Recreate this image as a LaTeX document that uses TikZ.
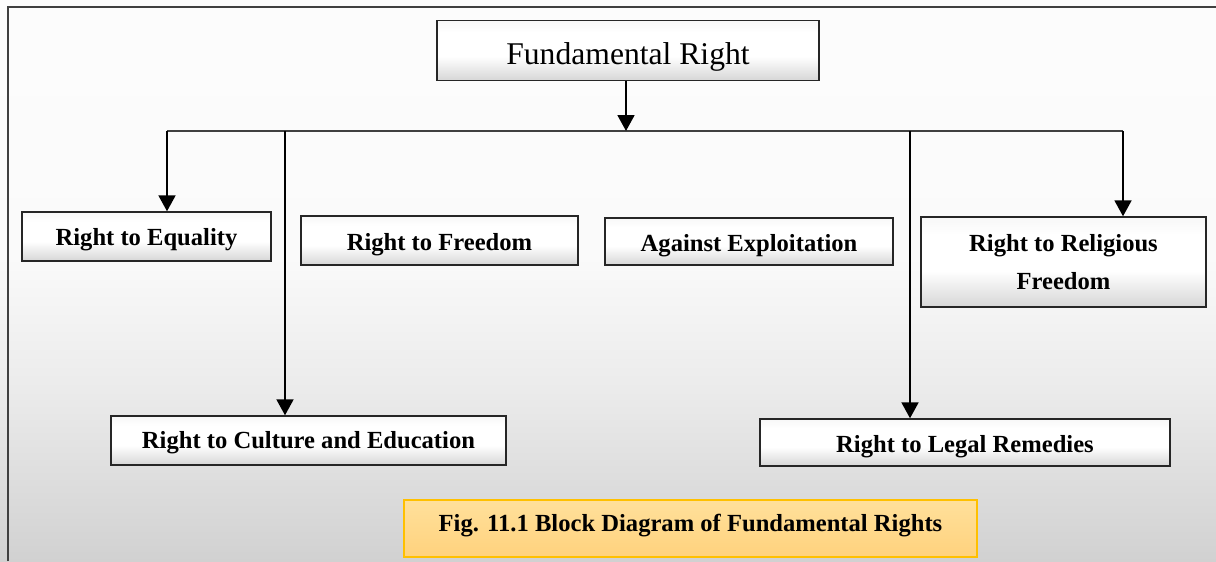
\documentclass[tikz,border=0pt]{standalone}
\usepackage{fontspec}
\setmainfont{Liberation Serif}
\usepackage{tikz}
\usetikzlibrary{arrows.meta}

\definecolor{capfill}{RGB}{255,224,155}
\definecolor{capfillb}{RGB}{255,210,125}
\definecolor{capline}{RGB}{255,192,0}
\definecolor{frameline}{RGB}{64,64,64}

\pgfdeclareverticalshading{bgshade}{100bp}{color(0bp)=(gray!36); color(25bp)=(gray!36);
  color(40bp)=(gray!16); color(52bp)=(gray!4); color(75bp)=(white!99!black); color(100bp)=(white!99!black)}
\pgfdeclareverticalshading{boxshade}{100bp}{color(0bp)=(gray!32); color(25bp)=(gray!32);
  color(45bp)=(white); color(65bp)=(white); color(75bp)=(gray!6); color(100bp)=(gray!6)}

\newcommand\lowered[2]{\raisebox{-#1}[\height][\depth]{#2}}

\begin{document}
\begin{tikzpicture}[x=0.02cm,y=-0.02cm]
  \tikzstyle{rightbox}=[draw=black!85,line width=0.8pt,shading=boxshade,inner sep=0pt,
    font=\fontsize{14}{21.5}\selectfont\bfseries,align=center]
  \tikzstyle{arr}=[line width=1.3pt,-{Triangle[length=9pt,width=9.5pt]}]

  \useasboundingbox (0,0) rectangle (1216,561);
  \path[shading=bgshade] (0,0) rectangle (1216,561);
  \draw[frameline,line width=1.4pt] (8,561) -- (8,7) -- (1216,7);

  \draw (628,50.5) node[rightbox,minimum width=7.64cm,minimum height=1.2cm,
    font=\fontsize{18}{22}\selectfont] (fr) {\lowered{3.5pt}{Fundamental Right}};

  \draw (146.5,236.5) node[rightbox,minimum width=4.98cm,minimum height=0.98cm] (eq) {\lowered{2pt}{Right to Equality}};
  \draw (439.5,240.5) node[rightbox,minimum width=5.54cm,minimum height=0.98cm] (free) {\lowered{2.5pt}{Right to Freedom}};
  \draw (749,241.5) node[rightbox,minimum width=5.76cm,minimum height=0.94cm] (expl) {\lowered{2.5pt}{Against Exploitation}};
  \draw (1063.5,262) node[rightbox,minimum width=5.7cm,minimum height=1.8cm] (rel) {Right to Religious\\Freedom};

  \draw (308.5,440.5) node[rightbox,minimum width=7.9cm,minimum height=0.98cm] (cult) {\lowered{1.5pt}{Right to Culture and Education}};
  \draw (965,442.5) node[rightbox,minimum width=8.2cm,minimum height=0.94cm] (legal) {\lowered{2.5pt}{Right to Legal Remedies}};

  \draw (690.5,528.5) node[rightbox,draw=capline,top color=capfill,bottom color=capfillb,
    minimum width=11.46cm,minimum height=1.14cm] (cap) {\lowered{-1.5pt}{Fig. 11.1 Block Diagram of Fundamental Rights}};

  % bus
  \coordinate (busL) at (167,131);
  \coordinate (busC) at (285,131);
  \coordinate (busM) at (626,131);
  \coordinate (busL2) at (910,131);
  \coordinate (busR) at (1123,131);
  \draw[frameline,line width=1pt] (busL) -- (busR);

  \draw[arr] (fr.south -| busM) -- (busM);
  \draw[arr] (busL) -- (busL |- eq.north);
  \draw[arr] (busC) -- (busC |- cult.north);
  \draw[arr] (busL2) -- (busL2 |- legal.north);
  \draw[arr] (busR) -- (busR |- rel.north);

\end{tikzpicture}
\end{document}
